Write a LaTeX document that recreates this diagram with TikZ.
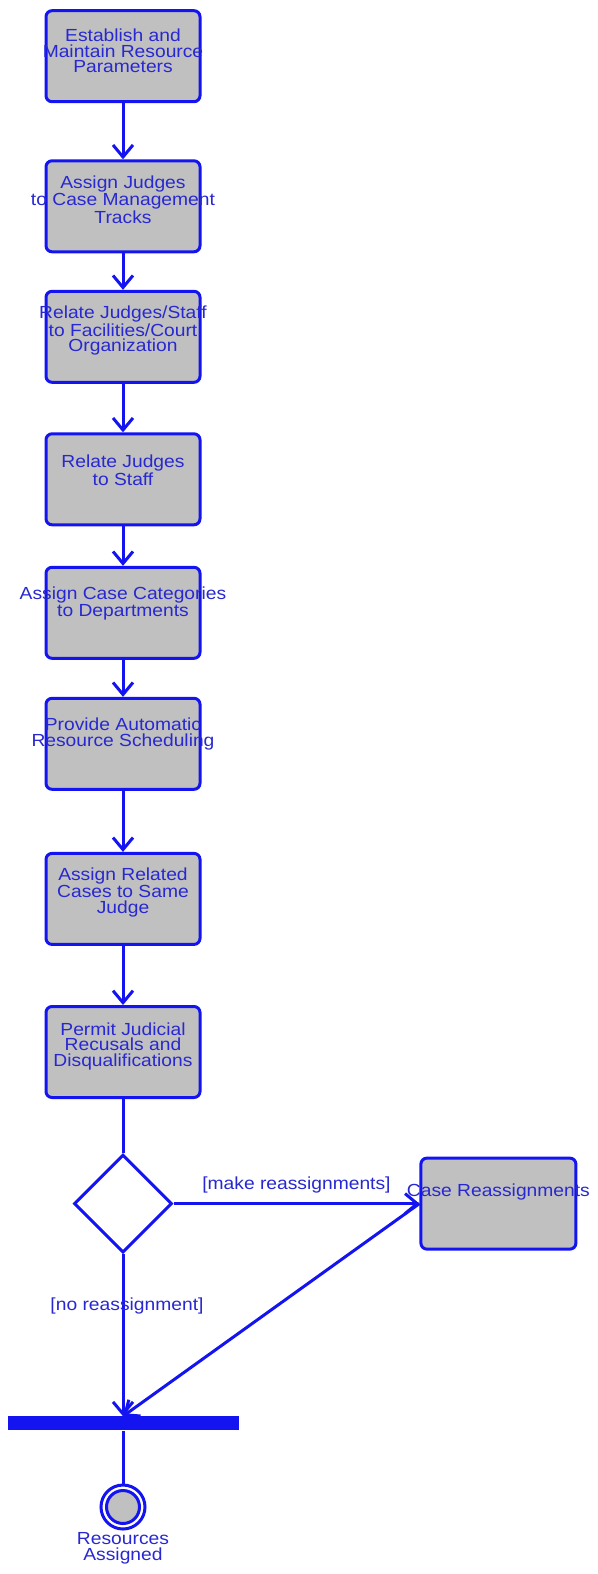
\documentclass[tikz,border=0pt]{standalone}
\usepackage{fontspec}
\setmainfont[FakeStretch=1.1]{Liberation Sans}
\usetikzlibrary{shapes.geometric,arrows.meta,positioning}
\definecolor{umlline}{RGB}{20,20,240}
\definecolor{umltext}{RGB}{40,40,210}
\definecolor{umlfill}{RGB}{192,192,192}

\begin{document}
\begin{tikzpicture}[x=1pt, y=-1pt,
	act/.style = {draw=umlline, fill=umlfill, line width=3pt, rounded corners=6pt, minimum width=154pt, minimum height=91pt, inner sep=0pt},
	lbl/.style = {text=umltext, align=center, inner sep=0pt, font=\fontsize{17.5}{15.5}\selectfont},
	link/.style = {draw=umlline, line width=3pt},
	flow/.style = {link, -{Straight Barb[length=12pt,width=20pt]}},
	decision/.style = {diamond, draw=umlline, fill=white, line width=3pt, minimum width=98pt, minimum height=98pt, inner sep=0pt},
	syncbar/.style = {fill=umlline, minimum width=231pt, minimum height=14pt, inner sep=0pt},
	final/.style = {circle, draw=umlline, line width=3pt, inner sep=0pt}]
	\useasboundingbox (0,0) rectangle (597,1574);
	% activities
	\node[act] (params) at (123,56.2) {};
	\node[lbl] (paramstxt) at ([yshift=5pt]params) {Establish and\\Maintain Resource\\Parameters};
	\node[act] (tracks) at (123,206.3) {};
	\node[lbl] (trackstxt) at ([yshift=6.5pt]tracks) {Assign Judges\\to Case Management\\Tracks};
	\node[act] (facilities) at (123,336.8) {};
	\node[lbl] (facilitiestxt) at ([yshift=6pt]facilities) {Relate Judges/Staff\\to Facilities/Court\\Organization};
	\node[act] (staff) at (123,479.3) {};
	\node[lbl] (stafftxt) at ([yshift=9pt]staff) {Relate Judges\\to Staff};
	\node[act] (categories) at (123,612.8) {};
	\node[lbl] (categoriestxt) at ([yshift=9.5pt]categories) {Assign Case Categories\\to Departments};
	\node[act] (scheduling) at (123,743.8) {};
	\node[lbl] (schedulingtxt) at ([yshift=10pt]scheduling) {Provide Automatic\\Resource Scheduling};
	\node[act] (related) at (123,898.9) {};
	\node[lbl] (relatedtxt) at ([yshift=6.5pt]related) {Assign Related\\Cases to Same\\Judge};
	\node[act] (recusal) at (123,1052) {};
	\node[lbl] (recusaltxt) at ([yshift=6pt]recusal) {Permit Judicial\\Recusals and\\Disqualifications};
	\node[decision] (choice) at (123,1203.6) {};
	\node[act, minimum width=155pt] (reassign) at (498.4,1203.6) {};
	\node[lbl] (reassigntxt) at ([yshift=12pt]reassign) {Case Reassignments};
	\node[syncbar] (join) at (123,1423.4) {};
	\node[final, minimum size=44pt, fill=white] (done) at (123,1507) {};
	\node[final, minimum size=33pt, fill=umlfill] (donecore) at (done) {};
	\node[lbl, below=2pt of done] (donetxt) {Resources\\Assigned};
	% transitions
	\draw[flow] (params) -- (tracks);
	\draw[flow] (tracks) -- (facilities);
	\draw[flow] (facilities) -- (staff);
	\draw[flow] (staff) -- (categories);
	\draw[flow] (categories) -- (scheduling);
	\draw[flow] (scheduling) -- (related);
	\draw[flow] (related) -- (recusal);
	\draw[link] (recusal) -- (choice);
	\draw[flow] (choice) -- node[lbl, above=9pt] (maketxt) {[make reassignments]} (reassign);
	\draw[flow] (choice) -- node[lbl, pos=0.32, xshift=4pt] (notxt) {[no reassignment]} (join);
	\draw[flow] (reassign.west) -- (join.north);
	\draw[link] (join) -- (done);
\end{tikzpicture}
\end{document}
